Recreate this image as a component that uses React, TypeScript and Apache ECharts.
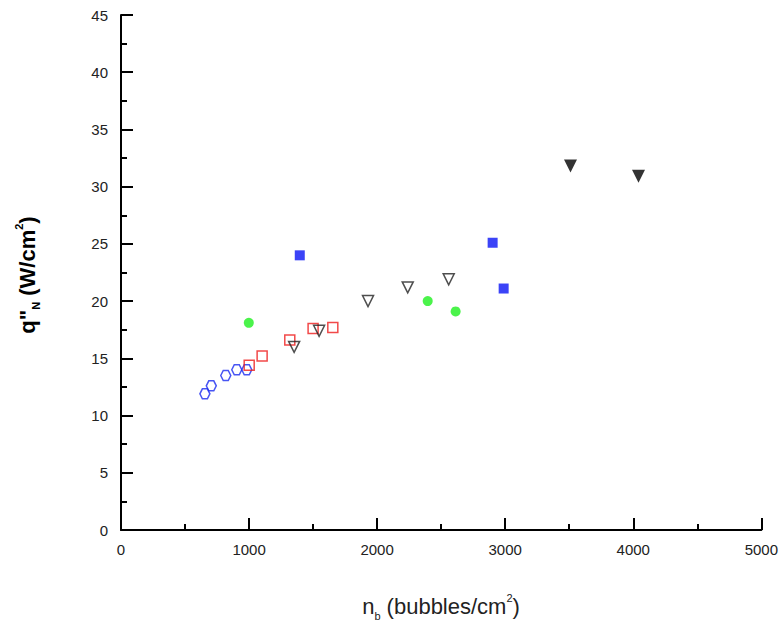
import React, { useEffect, useRef } from "react";
import * as echarts from "echarts";

const blueHexX = [655, 705, 818, 904, 982];
const blueHexY = [11.9, 12.6, 13.5, 14.0, 14.0];
const redSqX = [1001, 1102, 1318, 1500, 1654];
const redSqY = [14.4, 15.2, 16.6, 17.6, 17.7];
const openTriX = [1352, 1547, 1929, 2239, 2559];
const openTriY = [16.0, 17.4, 20.0, 21.2, 21.9];
const greenX = [998, 2395, 2613];
const greenY = [18.1, 20.0, 19.1];
const blueSqX = [1396, 2902, 2988];
const blueSqY = [24.0, 25.1, 21.1];
const filledTriX = [3510, 4041];
const filledTriY = [31.8, 30.9];

const zip = (xs: number[], ys: number[]) => xs.map((x, i) => [x, ys[i]]);

const hexPath = "path://M-1,0 L-0.5,-0.866 L0.5,-0.866 L1,0 L0.5,0.866 L-0.5,0.866 Z";
const FONT = "'Liberation Sans', Arial, sans-serif";

const makeAxisParts = (margin: number) => ({
  axisLine: { show: true, lineStyle: { color: "#000", width: 2 } },
  axisTick: { show: true, inside: true, length: 12, lineStyle: { color: "#000", width: 2 } },
  minorTick: { show: true, splitNumber: 2, length: 6, lineStyle: { color: "#000", width: 2 } },
  splitLine: { show: false },
  axisLabel: { color: "#222", fontSize: 15, fontFamily: FONT, margin, formatter: (v: number) => String(v) },
});

export default function App() {
  const ref = useRef<HTMLDivElement>(null);
  useEffect(() => {
    if (!ref.current) return;
    const chart = echarts.init(ref.current, null, { renderer: "svg" });
    chart.setOption({
      animation: false,
      backgroundColor: "#fff",
      grid: { left: 121, right: 19, top: 15, bottom: 95 },
      xAxis: {
        type: "value",
        min: 0,
        max: 5000,
        interval: 1000,
        ...makeAxisParts(12),
      },
      yAxis: {
        type: "value",
        min: 0,
        max: 45,
        interval: 5,
        ...makeAxisParts(13),
      },
      graphic: [
        {
          type: "text",
          x: 441,
          y: 606,
          style: {
            text: "{n|n}{s|b}{n| (bubbles/cm}{p|2}{n|)}",
            align: "center",
            verticalAlign: "middle",
            fontFamily: FONT,
            fill: "#222",
            rich: {
              n: { fontSize: 22, fontFamily: FONT, fill: "#222" },
              s: { fontSize: 11, fontFamily: FONT, fill: "#222", padding: [20, 0, 0, 0] },
              p: { fontSize: 11, fontFamily: FONT, fill: "#222", padding: [0, 0, 16, 0] },
            },
          },
        },
        {
          type: "text",
          x: 27,
          y: 275,
          rotation: Math.PI / 2,
          style: {
            text: "{n|q\"}{s|N}{n| (W/cm}{p|2}{n|)}",
            align: "center",
            verticalAlign: "middle",
            fontFamily: FONT,
            fill: "#000",
            rich: {
              n: { fontSize: 22, fontWeight: "bold", fontFamily: FONT, fill: "#000" },
              s: { fontSize: 11, fontWeight: "bold", fontFamily: FONT, fill: "#000", padding: [18, 0, 0, 0] },
              p: { fontSize: 11, fontWeight: "bold", fontFamily: FONT, fill: "#000", padding: [0, 0, 16, 0] },
            },
          },
        },
      ],
      series: [
        {
          type: "scatter",
          data: zip(blueHexX, blueHexY),
          symbol: hexPath,
          symbolSize: 10,
          itemStyle: { color: "transparent", borderColor: "#1a2af0", borderWidth: 1.5 },
        },
        {
          type: "scatter",
          data: zip(redSqX, redSqY),
          symbol: "rect",
          symbolSize: 10,
          itemStyle: { color: "transparent", borderColor: "#ee1c1c", borderWidth: 1.5 },
        },
        {
          type: "scatter",
          data: zip(openTriX, openTriY),
          symbol: "triangle",
          symbolRotate: 180,
          symbolSize: 11,
          itemStyle: { color: "transparent", borderColor: "#222", borderWidth: 1.5 },
        },
        {
          type: "scatter",
          data: zip(greenX, greenY),
          symbol: "circle",
          symbolSize: 10,
          itemStyle: { color: "#1ef01e" },
        },
        {
          type: "scatter",
          data: zip(blueSqX, blueSqY),
          symbol: "rect",
          symbolSize: 10,
          itemStyle: { color: "#0a14f5" },
        },
        {
          type: "scatter",
          data: zip(filledTriX, filledTriY),
          symbol: "triangle",
          symbolRotate: 180,
          symbolSize: 13,
          itemStyle: { color: "#000" },
        },
      ],
    });
    return () => chart.dispose();
  }, []);
  return <div ref={ref} style={{ width: 781, height: 625, position: "absolute", left: 0, top: 0 }} />;
}
